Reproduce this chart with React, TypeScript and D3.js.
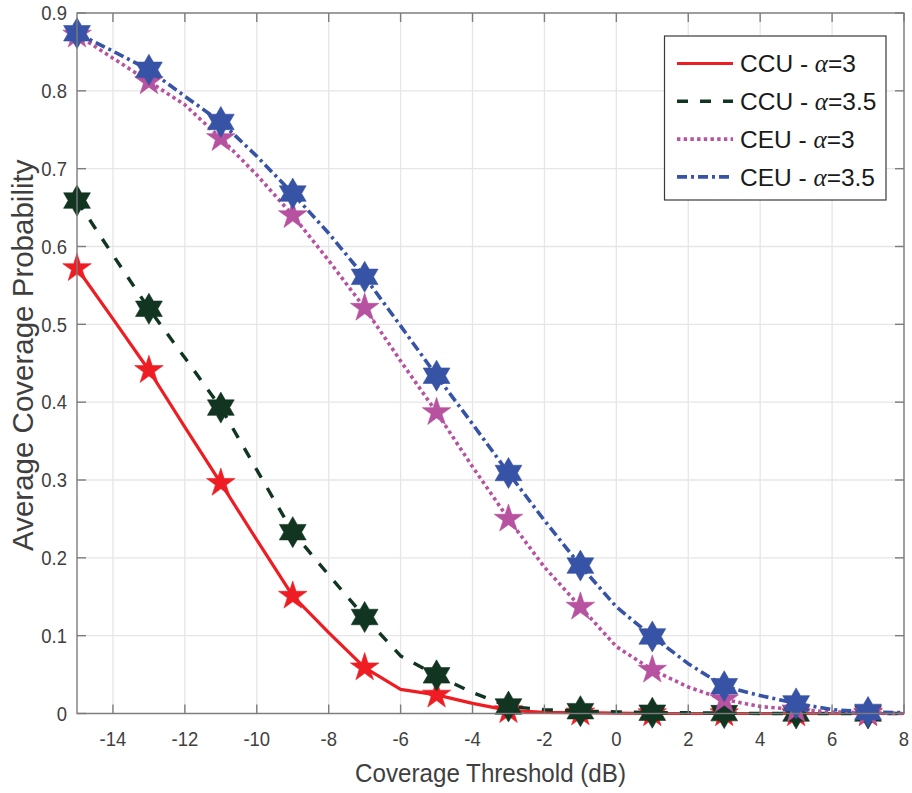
import React from "react";
import * as d3 from "d3";

const thresholds = [-15, -14, -13, -12, -11, -10, -9, -8, -7, -6, -5, -4, -3, -2, -1, 0, 1, 2, 3, 4, 5, 6, 7, 8];
const ccuA3 = [0.572, 0.507, 0.441, 0.368, 0.296, 0.223, 0.151, 0.104, 0.059, 0.031, 0.024, 0.013, 0.004, 0.0015, 0.001, 0.0005, 0, 0, 0, 0, 0, 0, 0, 0];
const ccuA35 = [0.659, 0.589, 0.52, 0.457, 0.393, 0.313, 0.233, 0.178, 0.124, 0.074, 0.049, 0.027, 0.009, 0.005, 0.003, 0.002, 0.001, 0.001, 0.0005, 0, 0, 0, 0, 0];
const ceuA3 = [0.872, 0.842, 0.812, 0.782, 0.739, 0.692, 0.64, 0.582, 0.521, 0.453, 0.387, 0.317, 0.25, 0.188, 0.137, 0.086, 0.056, 0.034, 0.018, 0.009, 0.005, 0.002, 0.001, 0];
const ceuA35 = [0.874, 0.851, 0.827, 0.793, 0.76, 0.716, 0.668, 0.617, 0.561, 0.498, 0.434, 0.372, 0.309, 0.248, 0.19, 0.137, 0.099, 0.064, 0.035, 0.023, 0.013, 0.005, 0.002, 0.001];
const markerX = [-15, -13, -11, -9, -7, -5, -3, -1, 1, 3, 5, 7];

const xTicks = [-14, -12, -10, -8, -6, -4, -2, 0, 2, 4, 6, 8];
const yTicks = [0, 0.1, 0.2, 0.3, 0.4, 0.5, 0.6, 0.7, 0.8, 0.9];

const seriesNames = ["CCU - ", "CCU - ", "CEU - ", "CEU - "];
const seriesAlpha = ["=3", "=3.5", "=3", "=3.5"];

const series = [
  { values: ccuA3, color: "#ee1d23", dash: "none", width: 3.2, marker: "p" },
  { values: ccuA35, color: "#123521", dash: "11,12", width: 3.4, marker: "h" },
  { values: ceuA3, color: "#b6529f", dash: "3.4,3.3", width: 3.6, marker: "p" },
  { values: ceuA35, color: "#3753a5", dash: "10,4,3,4", width: 3.6, marker: "h" },
];

function starPath(n: number, R: number, r: number) {
  const pts: string[] = [];
  for (let i = 0; i < 2 * n; i++) {
    const rad = i % 2 === 0 ? R : r;
    const a = -Math.PI / 2 + (i * Math.PI) / n;
    pts.push(`${(rad * Math.cos(a)).toFixed(2)},${(rad * Math.sin(a)).toFixed(2)}`);
  }
  return "M" + pts.join("L") + "Z";
}

const pentagram = starPath(5, 15, 15 * 0.382);
const hexagram = starPath(6, 15.5, 15.5 * 0.577);

export default function App() {
  const W = 912, H = 793;
  const left = 77, right = 904, top = 13, bottom = 713.5;
  const x = d3.scaleLinear().domain([-15, 8]).range([left, right]);
  const y = d3.scaleLinear().domain([0, 0.9]).range([bottom, top]);
  const line = d3.line<number>().x((_, i) => x(thresholds[i])).y((d) => y(d));
  const font = "'Liberation Sans', Arial, Helvetica, sans-serif";
  const textColor = "#3f3f3f";
  const axisColor = "#7d7d7d";
  const gridColor = "#e6e6e6";

  return (
    <svg width={W} height={H} style={{ position: "absolute", left: 0, top: 0, background: "#fff" }}>
      <rect x={0} y={0} width={W} height={H} fill="#fff" />
      {xTicks.map((t) => (
        <line key={"gx" + t} x1={x(t)} x2={x(t)} y1={top} y2={bottom} stroke={gridColor} strokeWidth={1.3} />
      ))}
      {yTicks.map((t) => (
        <line key={"gy" + t} x1={left} x2={right} y1={y(t)} y2={y(t)} stroke={gridColor} strokeWidth={1.3} />
      ))}
      {series.map((s, si) => (
        <g key={"s" + si}>
          <path
            d={line(s.values) || ""}
            fill="none"
            stroke={s.color}
            strokeWidth={s.width}
            strokeDasharray={s.dash}
            strokeLinecap="butt"
            strokeLinejoin="round"
          />
          {markerX.map((mx) => {
            const idx = thresholds.indexOf(mx);
            return (
              <path
                key={"m" + mx}
                d={s.marker === "p" ? pentagram : hexagram}
                transform={`translate(${x(mx)},${y(s.values[idx])})`}
                fill={s.color}
                stroke={s.color}
                strokeWidth={0.6}
                strokeLinejoin="miter"
              />
            );
          })}
        </g>
      ))}
      <rect x={left} y={top} width={right - left} height={bottom - top} fill="none" stroke={axisColor} strokeWidth={1.4} />
      {xTicks.map((t) => (
        <g key={"tx" + t}>
          <line x1={x(t)} x2={x(t)} y1={bottom} y2={bottom - 9} stroke={axisColor} strokeWidth={1.4} />
          <line x1={x(t)} x2={x(t)} y1={top} y2={top + 9} stroke={axisColor} strokeWidth={1.4} />
          <g transform={`translate(${x(t)},${bottom + 32}) scale(0.9,1)`}>
            <text x={0} y={0} textAnchor="middle" fontFamily={font} fontSize={20.5} fill={textColor}>
              {t}
            </text>
          </g>
        </g>
      ))}
      {yTicks.map((t) => (
        <g key={"ty" + t}>
          <line x1={left} x2={left + 9} y1={y(t)} y2={y(t)} stroke={axisColor} strokeWidth={1.4} />
          <line x1={right} x2={right - 9} y1={y(t)} y2={y(t)} stroke={axisColor} strokeWidth={1.4} />
          <g transform={`translate(${left - 10},${y(t) + 7.3}) scale(0.9,1)`}>
            <text x={0} y={0} textAnchor="end" fontFamily={font} fontSize={20.5} fill={textColor}>
              {t}
            </text>
          </g>
        </g>
      ))}
      <g transform={`translate(${(left + right) / 2},${781.5}) scale(0.93,1)`}>
        <text x={0} y={0} textAnchor="middle" fontFamily={font} fontSize={26} fill={textColor}>
          Coverage Threshold (dB)
        </text>
      </g>
      <text
        transform={`translate(${33},${(top + bottom) / 2 - 8}) rotate(-90)`}
        textAnchor="middle"
        fontFamily={font}
        fontSize={29.5}
        fill={textColor}
      >
        Average Coverage Probability
      </text>
      <rect x={664.5} y={36} width={221.5} height={164} fill="#fff" stroke="#3a3a3a" strokeWidth={1.2} />
      {series.map((s, i) => {
        const cy = 63.5 + i * 37.8;
        return (
          <g key={"l" + i}>
            <line x1={677} x2={733} y1={cy} y2={cy} stroke={s.color} strokeWidth={s.width} strokeDasharray={s.dash} />
            <text x={740} y={cy + 8.8} fontFamily={font} fontSize={24.5} fill="#1a1a1a">
              {seriesNames[i]}
              <tspan fontFamily="'Liberation Serif', 'Times New Roman', serif" fontStyle="italic" fontSize={25}>
                α
              </tspan>
              {seriesAlpha[i]}
            </text>
          </g>
        );
      })}
    </svg>
  );
}
